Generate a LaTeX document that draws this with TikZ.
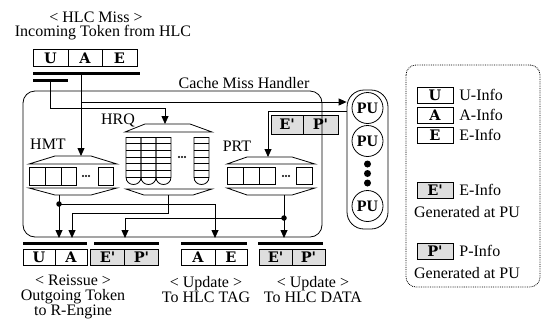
\documentclass[tikz,border=0pt]{standalone}
\usepackage{fontspec}
\setmainfont{Liberation Serif}
\newfontfamily\tokfont{DejaVu Serif}
\usetikzlibrary{arrows.meta}
\begin{document}
\begin{tikzpicture}[x=1bp,y=-1bp, line width=0.8bp,
  every node/.style={font=\fontsize{16bp}{18bp}\selectfont, inner sep=0pt},
  cell/.style={draw, minimum height=16bp, font=\tokfont\fontsize{14.5bp}{16bp}\selectfont\bfseries},
  gcell/.style={cell, fill=black!13},
  bar/.style={line width=3bp},
  arr/.style={-{Triangle[length=8bp,width=7bp]}},
  jdot/.style={circle, fill, inner sep=0pt, minimum size=5.5bp},
  pu/.style={circle, draw, minimum size=31bp, font=\fontsize{16bp}{18bp}\selectfont\bfseries},
  pdot/.style={circle, fill, inner sep=0pt, minimum size=7bp},
  lbl/.style={anchor=center},
  multi/.style={align=center, font=\fontsize{16bp}{15bp}\selectfont},
]
\useasboundingbox (0,0) rectangle (546,326);

% ---------- title ----------
\node[lbl] (t1) at (96,17) {< HLC Miss >};
\node[lbl] (t2) at (103,33) {Incoming Token from HLC};

% ---------- incoming token ----------
\node[cell, minimum width=35bp, minimum height=17bp] (tU) at (50.5,58) {U};
\node[cell, minimum width=34bp, minimum height=17bp] (tA) at (85,58) {A};
\node[cell, minimum width=35bp, minimum height=17bp] (tE) at (119.5,58) {E};
\coordinate (b1L) at (33,73); \coordinate (b1R) at (140,73);
\coordinate (b2L) at (33,80); \coordinate (b2R) at (68,80);
\draw[bar] (b1L) -- (b1R);
\draw[bar] (b2L) -- (b2R);

% ---------- PU column ----------
\node[draw, rounded corners=17bp, minimum width=41bp, minimum height=139bp] (pubox) at (367.5,159.5) {};
\node[pu] (pu1) at (367.5,108) {PU};
\node[pu] (pu2) at (367.5,141) {PU};
\node[pdot] (pd1) at (367.5,164) {};
\node[pdot] (pd2) at (367.5,173.5) {};
\node[pdot] (pd3) at (367.5,183) {};
\node[pu] (pu3) at (367.5,206) {PU};

% ---------- E'P' returned from PU ----------
\node[gcell, minimum width=32bp, minimum height=19bp] (rE) at (287,124.5) {E'};
\node[gcell, minimum width=35bp, minimum height=19bp] (rP) at (320.5,124.5) {P'};

% ---------- HMT ----------
\node[lbl] (hmtL) at (48,144) {HMT};
\draw (29,164) -- (55,156) -- (91,156) -- (117,164) -- cycle;
\draw (29,167) rectangle (76,185);
\draw (45,167) -- (45,185) (61,167) -- (61,185);
\draw (98,167) rectangle (113,185);
\foreach \d in {-3,0,3} \fill (86+\d,176) circle (1.1bp);
\draw (29,188) -- (117,188) -- (91,195) -- (55,195) -- cycle;
\coordinate (hmtIn) at (81,156);
\coordinate (hmtOut) at (59,195);

% ---------- HRQ ----------
\node[lbl] (hrqL) at (118,120) {HRQ};
\draw (125,132) -- (145,124) -- (190,124) -- (212,132) -- cycle;
\foreach \a in {126,141,156,194}{
  \draw (\a,137) -- (\a+15,137);
  \foreach \r in {143,150,157,163,170,177} \draw (\a,\r) -- (\a+15,\r);
  \draw (\a+15,137) -- (\a+15,177) .. controls (\a+15,187) and (\a,187) .. (\a,177) -- (\a,137);
}
\foreach \d in {-3,0,3} \fill (182+\d,157) circle (1.1bp);
\draw (126,189) -- (212,189) -- (193,195) -- (144,195) -- cycle;
\coordinate (hrqIn) at (165,124);
\coordinate (hrqOut) at (168,195);

% ---------- PRT ----------
\node[lbl] (prtL) at (237,146) {PRT};
\draw (227,164) -- (247,157) -- (292,157) -- (315,164) -- cycle;
\draw (227,167) rectangle (275,184);
\draw (243,167) -- (243,184) (259,167) -- (259,184);
\draw (296,167) rectangle (312,184);
\foreach \d in {-3,0,3} \fill (286+\d,176) circle (1.1bp);
\draw (227,188) -- (315,188) -- (292,195) -- (247,195) -- cycle;
\coordinate (prtIn) at (268,157);
\coordinate (prtOut) at (284,195);

% ---------- Cache Miss Handler box ----------
\node[lbl] (cmhL) at (244,83) {Cache Miss Handler};
\draw[rounded corners=12bp] (23,91) rectangle (322,237);

% ---------- input connectors ----------
\coordinate (uDrop) at (50,80);
\coordinate (uTurn) at (50,108);
\coordinate (aDrop) at (81,73);
\coordinate (aBr) at (81,102);
\coordinate (puRet) at (268,111);
\draw[arr] (uDrop) -- (uTurn) -| (hrqIn);
\draw[arr] (aDrop) -- (hmtIn);
\draw[arr] (aBr) -- (aBr -| pubox.west);
\draw[arr] (puRet -| pubox.west) -- (puRet) -- (prtIn);

% ---------- output tokens ----------
\node[cell, minimum width=32bp] (oU) at (39,257) {U};
\node[cell, minimum width=32bp] (oA) at (71,257) {A};
\node[gcell, minimum width=34bp] (oE) at (107.5,257) {E'};
\node[gcell, minimum width=34bp] (oP) at (141.5,257) {P'};
\draw[bar] (23,243) -- (87,243);
\draw[bar] (94,243) -- (159,243);

\node[cell, minimum width=34bp] (gA) at (198,257) {A};
\node[cell, minimum width=32bp] (gE) at (231,257) {E};
\draw[bar] (181,243) -- (247,243);

\node[gcell, minimum width=33bp] (dE) at (275.5,257) {E'};
\node[gcell, minimum width=33bp] (dP) at (308.5,257) {P'};
\draw[bar] (258,243) -- (323,243);

% ---------- output connectors ----------
\node[jdot] (j1) at (59,204) {};
\node[jdot] (j2) at (284,218) {};
\coordinate (endU) at (59,238);
\coordinate (endA) at (72,238);
\coordinate (endE) at (125,238);
\coordinate (endTag) at (215,238);
\coordinate (endData) at (284,238);
\coordinate (hrqTurn) at (168,213);
\draw[arr] (hmtOut) -- (endU);
\draw[arr] (j1.center) -| (endTag);
\draw[arr] (hrqOut) -- (hrqTurn) -| (endA);
\draw[arr] (prtOut) -- (endData);
\draw[arr] (j2.center) -| (endE);

% ---------- output labels ----------
\node[multi] (l1) at (73,297) {< Reissue >\\Outgoing Token\\to R-Engine};
\node[multi] (l2) at (206,289.5) {< Update >\\To HLC TAG};
\node[multi] (l3) at (313,289.5) {< Update >\\To HLC DATA};

% ---------- legend ----------
\draw[densely dotted, rounded corners=10bp] (406,65) rectangle (540,287);
\node[cell, minimum width=36bp] (kU) at (435,95) {U};
\node[cell, minimum width=36bp] (kA) at (435,115) {A};
\node[cell, minimum width=36bp] (kE) at (435,135) {E};
\node[anchor=west] (kUt) at (459,95) {U-Info};
\node[anchor=west] (kAt) at (459,115) {A-Info};
\node[anchor=west] (kEt) at (459,135) {E-Info};
\node[gcell, minimum width=36bp] (kE2) at (435,190) {E'};
\node[anchor=west] (kE2t) at (459,190) {E-Info};
\node[lbl] (kE2g) at (467,212) {Generated at PU};
\node[gcell, minimum width=36bp] (kP) at (435,251) {P'};
\node[anchor=west] (kPt) at (459,251) {P-Info};
\node[lbl] (kPg) at (467,273) {Generated at PU};
\end{tikzpicture}
\end{document}
